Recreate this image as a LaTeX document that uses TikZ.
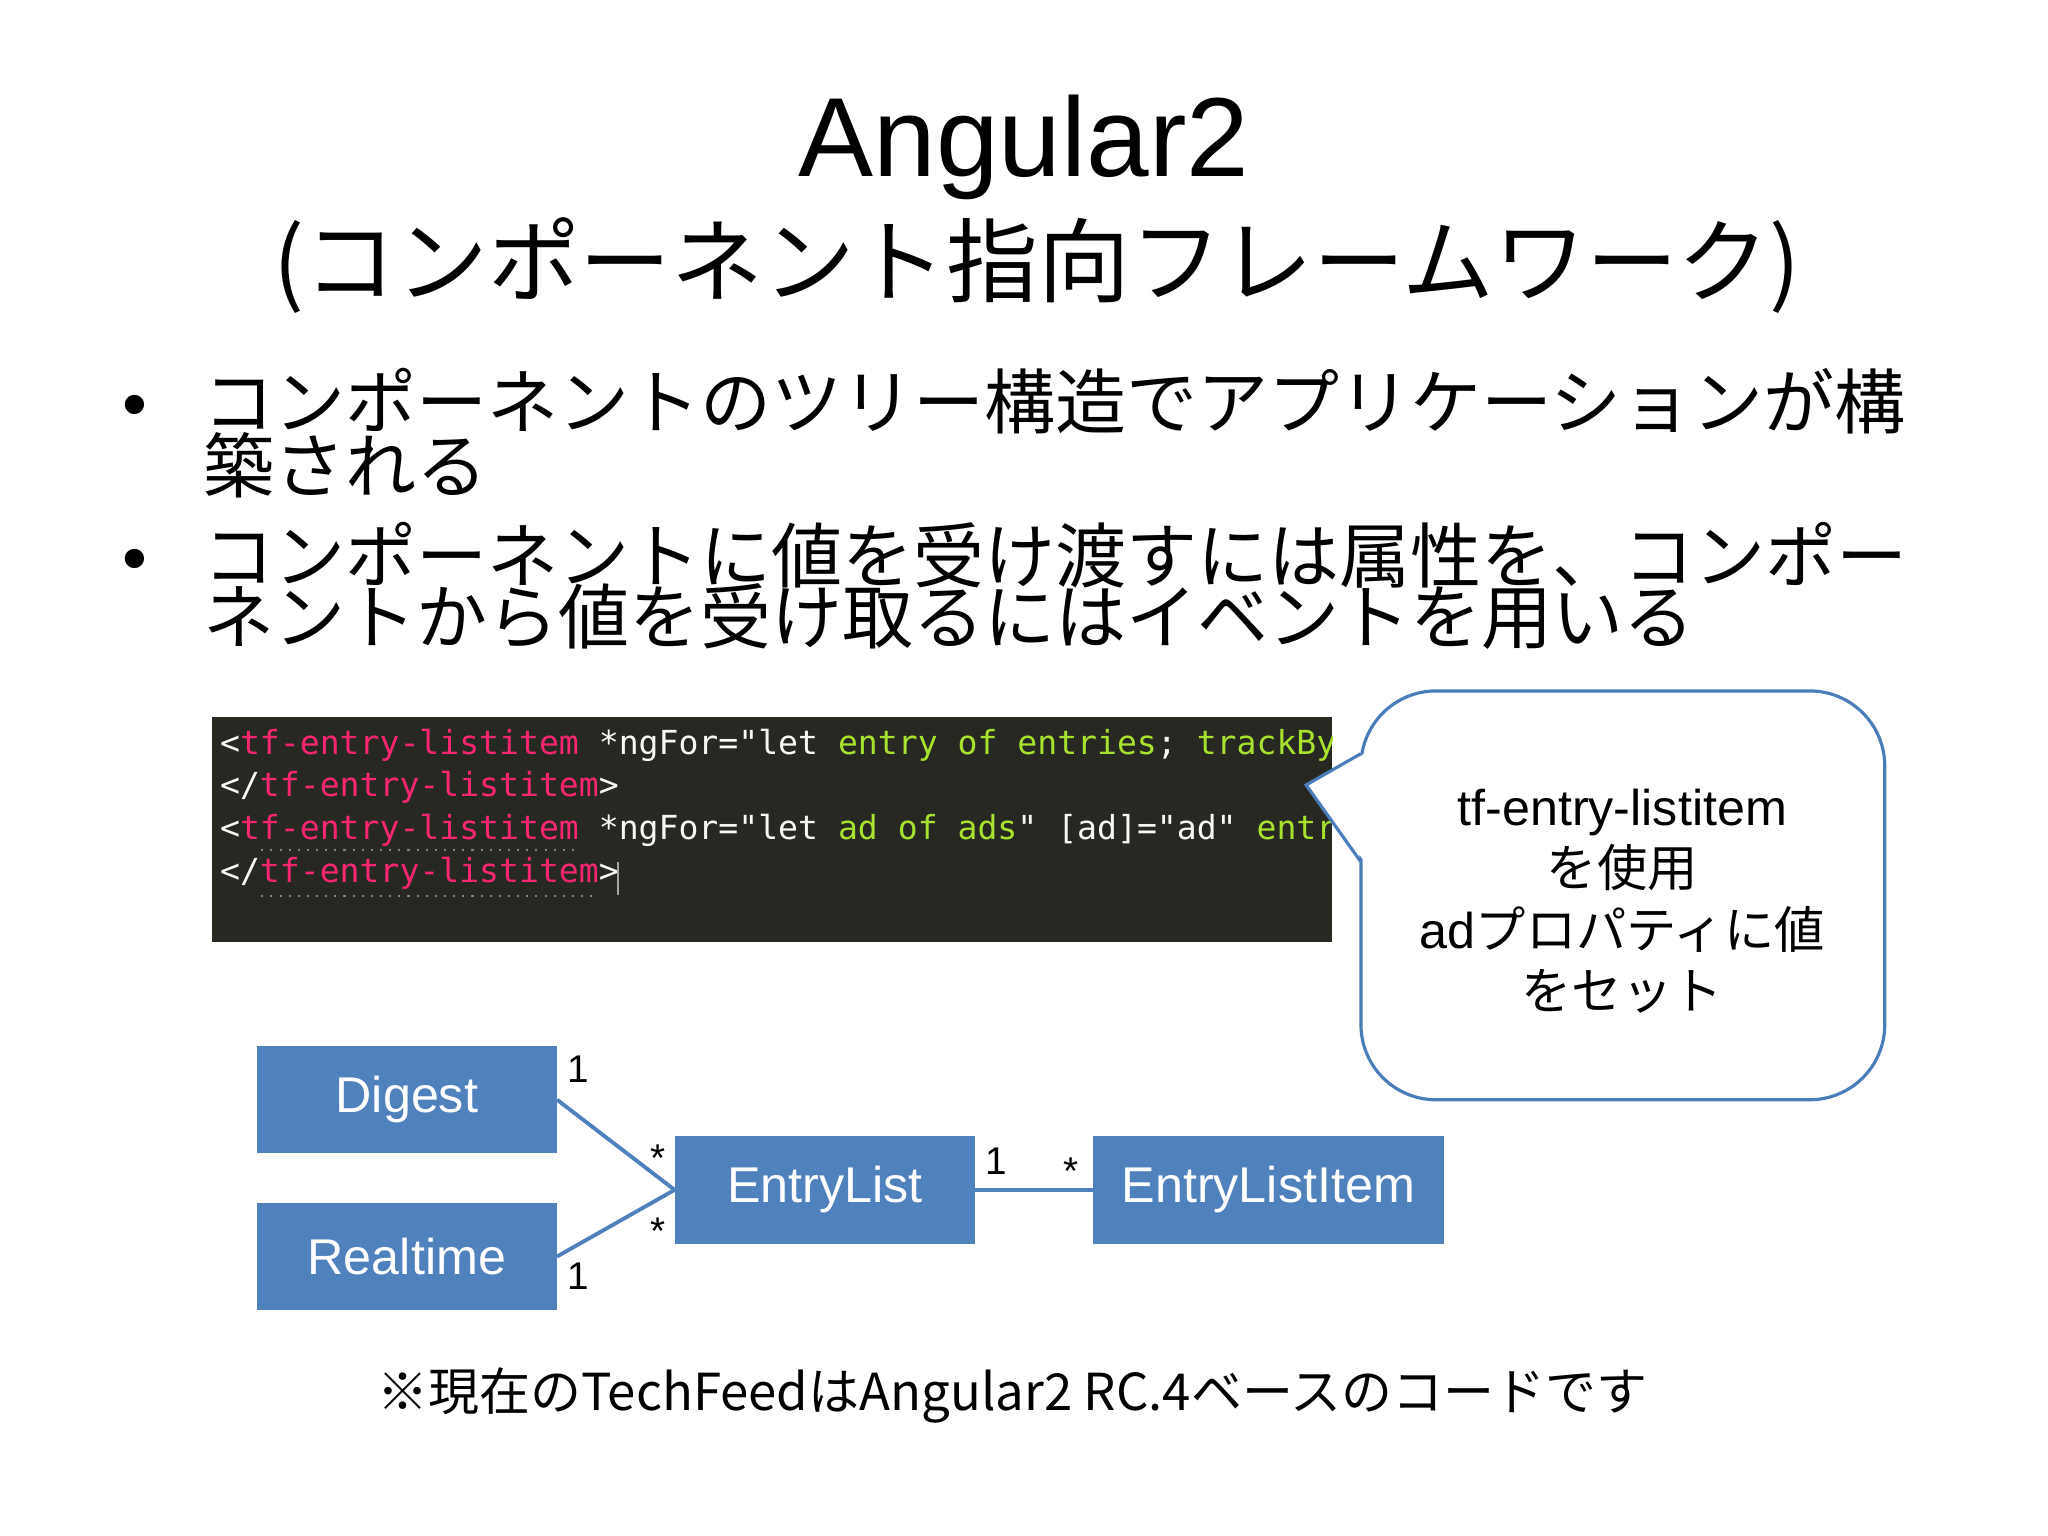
\documentclass[tikz,border=0pt]{standalone}
\usepackage{fontspec}
\setmainfont{Liberation Sans}
\newfontfamily\jpfont{Noto Sans CJK JP}
\newfontfamily\codefont{DejaVu Sans Mono}
\usetikzlibrary{positioning}
\definecolor{boxblue}{HTML}{4F81BD}
\definecolor{calloutblue}{HTML}{4A7EBB}
\definecolor{codebg}{HTML}{272822}
\definecolor{codepink}{HTML}{F92672}
\definecolor{codegreen}{HTML}{A6E22E}
\definecolor{codewhite}{HTML}{F8F8F2}
\newcommand{\ja}[1]{{\jpfont #1}}
\newcommand{\ctagname}[1]{\textcolor{codepink}{#1}}
\newcommand{\cval}[1]{\textcolor{codegreen}{#1}}
\tikzset{
  umlbox/.style={fill=boxblue, draw=boxblue, text=white, inner sep=0pt,
    minimum height=1.06cm, font=\fontsize{14.3}{17}\selectfont},
  link/.style={draw=boxblue, line width=1.1pt},
  mult/.style={anchor=base, inner sep=0pt, font=\fontsize{11}{13}\selectfont},
  codeline/.style={anchor=base west, inner sep=0pt, text=codewhite,
    font=\codefont\fontsize{9.42}{11}\selectfont},
  bulletline/.style={anchor=base west, inner sep=0pt,
    font=\jpfont\fontsize{20.2}{22}\selectfont},
}

\begin{document}
\begin{tikzpicture}[x=0.013061cm, y=-0.013061cm]
        % page
        \fill[white] (0,0) rectangle (1568,1176);
        \useasboundingbox (0,0) rectangle (1568,1176);
        % title
        \node[anchor=base, inner sep=0pt, font=\fontsize{32}{38}\selectfont] (title) at (784,135) {Angular2};
        \node[anchor=base, inner sep=0pt, font=\jpfont\fontsize{26.1}{30}\selectfont] (subtitle) at (794,226) {(コンポーネント指向フレームワーク)};
        % bullets
        \node[anchor=base, inner sep=0pt, font=\fontsize{20.2}{22}\selectfont] (dot1) at (103,328) {•};
        \node[bulletline] (item1a) at (155,328) {コンポーネントのツリー構造でアプリケーションが構};
        \node[bulletline] (item1b) at (155,377) {築される};
        \node[anchor=base, inner sep=0pt, font=\fontsize{20.2}{22}\selectfont] (dot2) at (103,446) {•};
        \node[bulletline] (item2a) at (155,446) {コンポーネントに値を受け渡すには属性を、コンポー};
        \node[bulletline] (item2b) at (155,493) {ネントから値を受け取るにはイベントを用いる};
        % code block
        \fill[codebg] (162,549) rectangle (1020,721);
        \begin{scope}
          \clip (162,549) rectangle (1020,721);
          \node[codeline] (code1) at (168,578) {<\ctagname{tf-entry-listitem} *ngFor="let \cval{entry of entries}; \cval{trackBy: trackEntry}};
          \node[codeline] (code2) at (168,610) {</\ctagname{tf-entry-listitem}>};
          \node[codeline] (code3) at (168,643) {<\ctagname{tf-entry-listitem} *ngFor="let \cval{ad of ads}" [ad]="ad" \cval{entry}};
          \node[codeline] (code4) at (168,676) {</\ctagname{tf-entry-listitem}>};
        \end{scope}
        %underlines and cursor
        \draw[gray, dotted, line width=0.6pt] (200,651) -- (442,651);
        \draw[gray, dotted, line width=0.6pt] (200,686) -- (457,686);
        \draw[gray!70, line width=0.5pt] (473,660) -- (473,685);
        % callout
        \draw[calloutblue, line width=0.9pt, fill=white, rounded corners=0.75cm] (1042,529) rectangle (1443,842);
        \fill[white] (1045,577) -- (1000,601) -- (1045,660) -- cycle;
        \draw[calloutblue, line width=0.9pt] (1042,577) -- (1000,601) -- (1042,660);
        \node[align=center, inner sep=0pt, font=\fontsize{14.3}{17.5}\selectfont] (note) at (1242,690)
          {tf-entry-listitem\\\ja{を使用}\\ad\ja{プロパティに値}\\\ja{をセット}};
        % class diagram
        \node[umlbox, minimum width=2.99cm] (digest) at (311.5,842) {Digest};
        \node[umlbox, minimum width=2.99cm] (realtime) at (311.5,962) {Realtime};
        \node[umlbox, minimum width=2.99cm] (entrylist) at (631.5,911) {EntryList};
        \node[umlbox, minimum width=3.50cm] (entrylistitem) at (971,911) {EntryListItem};
        \draw[link] (digest.east) -- (entrylist.west);
        \draw[link] (realtime.east) -- (entrylist.west);
        \draw[link] (entrylist.east) -- (entrylistitem.west);
        % multiplicities
        \node[mult] (m1) at (443,829) {1};
        \node[mult] (m2) at (504,897) {*};
        \node[mult] (m3) at (504,953) {*};
        \node[mult] (m4) at (443,987) {1};
        \node[mult] (m5) at (763,899) {1};
        \node[mult] (m6) at (820,907) {*};
        % footnote
        \node[anchor=base, inner sep=0pt, font=\jpfont\fontsize{14.5}{17}\selectfont] (footnote) at (775,1080)
          {※現在のTechFeedはAngular2 RC.4ベースのコードです};
\end{tikzpicture}
\end{document}
